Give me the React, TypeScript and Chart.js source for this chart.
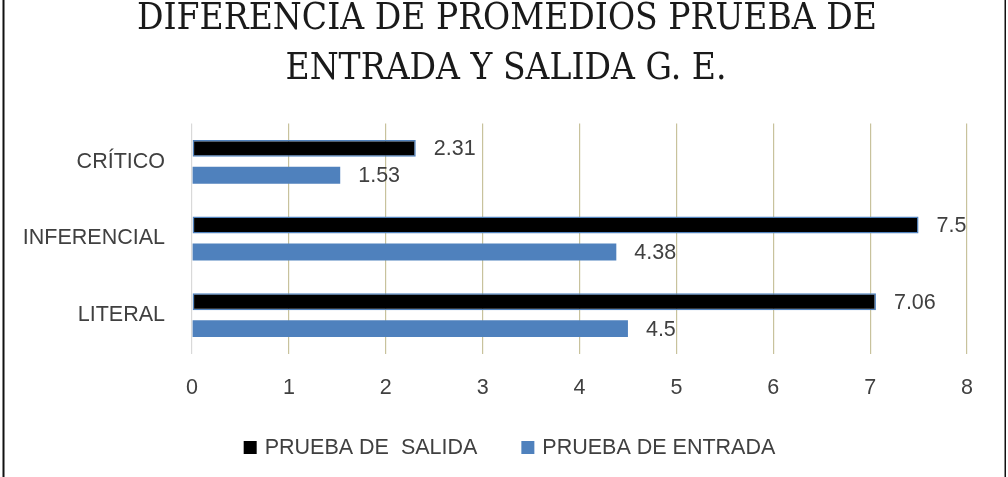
import React, { useEffect, useRef } from 'react';
import { Chart, registerables } from 'chart.js';

Chart.register(...registerables);

const TITLE_LINES = ['DIFERENCIA DE PROMEDIOS PRUEBA DE', 'ENTRADA Y SALIDA G. E.'];
const CATEGORIES = ['CRÍTICO', 'INFERENCIAL', 'LITERAL'];
const SALIDA = [2.31, 7.5, 7.06];
const ENTRADA = [1.53, 4.38, 4.5];
const SERIES_NAMES = ['PRUEBA DE  SALIDA', 'PRUEBA DE ENTRADA'];
const X_MIN = 0;
const X_MAX = 8;
const X_STEP = 1;

const SANS = '"Liberation Sans", Arial, sans-serif';
const SERIF = '"DejaVu Serif", "Liberation Serif", serif';
const TEXT_COLOR = '#404040';
const BLUE = '#4f81bd';
const BLACK = '#000000';

export default function App() {
  const ref = useRef<HTMLCanvasElement | null>(null);

  useEffect(() => {
    if (!ref.current) return;

    const decorPlugin = {
      id: 'decor',
      afterDraw(chart: any) {
        const ctx = chart.ctx;
        ctx.save();
        // frame lines
        ctx.fillStyle = '#111';
        ctx.fillRect(2.5, 0, 2, 477);
        ctx.fillRect(1004.5, 0, 1.5, 477);

        // title
        ctx.fillStyle = '#1a1a1a';
        ctx.font = `37px ${SERIF}`;
        ctx.textAlign = 'center';
        ctx.textBaseline = 'alphabetic';
        const w1 = ctx.measureText(TITLE_LINES[0]).width;
        const sx = 740 / w1;
        const pos = [
          [507, 29],
          [506, 79],
        ];
        TITLE_LINES.forEach((line, i) => {
          ctx.save();
          ctx.translate(pos[i][0], pos[i][1]);
          ctx.scale(sx, 1);
          ctx.fillText(line, 0, 0);
          ctx.restore();
        });

        // data labels
        ctx.font = `21.5px ${SANS}`;
        ctx.fillStyle = TEXT_COLOR;
        ctx.textAlign = 'left';
        ctx.textBaseline = 'middle';
        chart.data.datasets.forEach((ds: any, di: number) => {
          const meta = chart.getDatasetMeta(di);
          meta.data.forEach((el: any, i: number) => {
            ctx.fillText(String(ds.data[i]), el.x + 18, el.y + 1);
          });
        });

        // legend
        const colors = [BLACK, BLUE];
        const box = 13;
        const gapText = 8;
        const gapItems = 44;
        ctx.font = `21.5px ${SANS}`;
        const widths = SERIES_NAMES.map((n) => ctx.measureText(n).width);
        const total =
          widths.reduce((a, b) => a + b, 0) + SERIES_NAMES.length * (box + gapText) + gapItems * (SERIES_NAMES.length - 1);
        let x = 509.5 - total / 2;
        const cy = 447.5;
        SERIES_NAMES.forEach((n, i) => {
          ctx.fillStyle = colors[i];
          ctx.fillRect(x, cy - box / 2, box, box);
          x += box + gapText;
          ctx.fillStyle = TEXT_COLOR;
          ctx.fillText(n, x, cy + 1);
          x += widths[i] + gapItems;
        });
        ctx.restore();
      },
    };

    const chart = new Chart(ref.current, {
      type: 'bar',
      data: {
        labels: CATEGORIES,
        datasets: [
          {
            label: SERIES_NAMES[0],
            data: SALIDA,
            backgroundColor: BLACK,
            borderColor: BLUE,
            borderWidth: 1.5,
            borderSkipped: false,
            barPercentage: 17 / 27,
            categoryPercentage: 54 / 77,
          },
          {
            label: SERIES_NAMES[1],
            data: ENTRADA,
            backgroundColor: BLUE,
            borderWidth: 0,
            barPercentage: 17 / 27,
            categoryPercentage: 54 / 77,
          },
        ],
      },
      options: {
        indexAxis: 'y',
        responsive: false,
        animation: false,
        devicePixelRatio: 1,
        layout: { padding: { left: 10, right: 41, top: 123.5, bottom: 73.5 } },
        plugins: {
          legend: { display: false },
          title: { display: false },
          tooltip: { enabled: false },
        },
        scales: {
          x: {
            type: 'linear',
            min: X_MIN,
            max: X_MAX,
            ticks: {
              stepSize: X_STEP,
              font: { family: SANS, size: 21.5 },
              color: TEXT_COLOR,
              padding: 22,
            },
            grid: {
              drawTicks: false,
              lineWidth: 1.2,
              color: (c: any) => (c.tick && c.tick.value === 0 ? '#d9d9d9' : '#c8c29c'),
            },
            border: { display: false },
            afterFit: (s: any) => {
              s.height = 50;
            },
          },
          y: {
            type: 'category',
            grid: { display: false, drawTicks: false },
            border: { display: false },
            ticks: {
              font: { family: SANS, size: 21.5 },
              color: TEXT_COLOR,
              padding: 27,
            },
            afterFit: (s: any) => {
              s.width = 182;
            },
          },
        },
      },
      plugins: [decorPlugin],
    } as any);

    return () => chart.destroy();
  }, []);

  return (
    <div style={{ position: 'absolute', left: 0, top: 0, width: 1008, height: 477, background: '#fff' }}>
      <canvas ref={ref} width={1008} height={477} style={{ width: 1008, height: 477, display: 'block' }} />
    </div>
  );
}
